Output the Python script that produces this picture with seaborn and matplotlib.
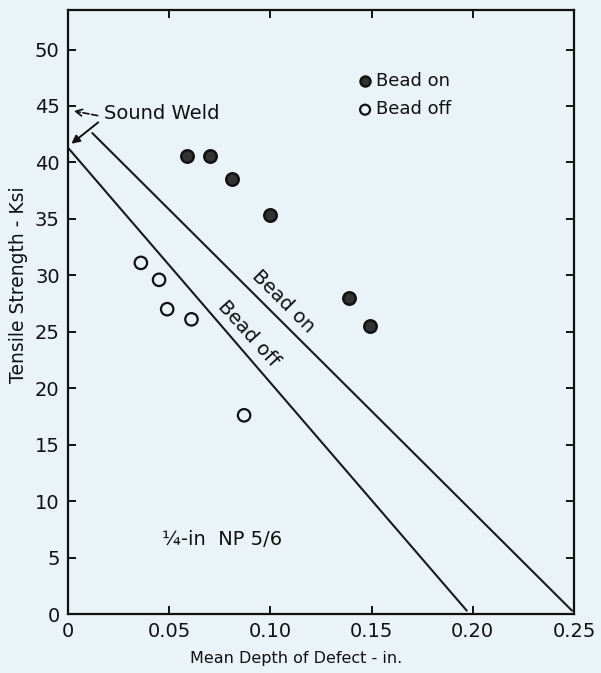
import matplotlib
matplotlib.use("Agg")
import matplotlib.pyplot as plt
import seaborn as sns
import pandas as pd

# ---- data ----
bead_on_x = [0.059, 0.070, 0.081, 0.100, 0.139, 0.149]
bead_on_y = [40.6, 40.6, 38.5, 35.3, 28.0, 25.5]

bead_off_x = [0.036, 0.045, 0.049, 0.061, 0.087]
bead_off_y = [31.1, 29.6, 27.0, 26.1, 17.6]

line_on_x = [0.012, 0.249]
line_on_y = [42.6, 0.3]
line_off_x = [0.0, 0.197]
line_off_y = [41.3, 0.3]

x_ticks = [0, 0.05, 0.10, 0.15, 0.20, 0.25]
x_tick_labels = ["0", "0.05", "0.10", "0.15", "0.20", "0.25"]
y_ticks = [0, 5, 10, 15, 20, 25, 30, 35, 40, 45, 50]
y_tick_labels = [str(v) for v in y_ticks]

sns.set_theme(style="white")
plt.rcParams["font.family"] = ["DejaVu Sans"]

bg = "#eaf3f8"
fig = plt.figure(figsize=(6.01, 6.73), dpi=100, facecolor=bg)
ax = fig.add_axes([68 / 601, 1 - 614 / 673, (574 - 68) / 601, (614 - 10) / 673])
ax.set_facecolor(bg)

on_df = pd.DataFrame({"x": bead_on_x, "y": bead_on_y})
off_df = pd.DataFrame({"x": bead_off_x, "y": bead_off_y})
lon = pd.DataFrame({"x": line_on_x, "y": line_on_y})
loff = pd.DataFrame({"x": line_off_x, "y": line_off_y})

sns.lineplot(data=lon, x="x", y="y", ax=ax, color="#1a1a1a", lw=1.5,
             sort=False, estimator=None)
sns.lineplot(data=loff, x="x", y="y", ax=ax, color="#1a1a1a", lw=1.5,
             sort=False, estimator=None)

sns.scatterplot(data=on_df, x="x", y="y", ax=ax, s=80, marker="o",
                facecolor="#333333", edgecolor="#111111", linewidth=1.8,
                label="Bead on", zorder=3)
sns.scatterplot(data=off_df, x="x", y="y", ax=ax, s=80, marker="o",
                facecolor="none", edgecolor="#111111", linewidth=1.6,
                label="Bead off", zorder=3)

ax.set_xlim(0, 0.25)
ax.set_ylim(0, 53.5)
ax.set_xticks(x_ticks)
ax.set_xticklabels(x_tick_labels)
ax.set_yticks(y_ticks)
ax.set_yticklabels(y_tick_labels)

for s in ax.spines.values():
    s.set_color("#111111")
    s.set_linewidth(1.6)
ax.tick_params(axis="both", which="major", direction="in", length=6, width=1.4,
               color="#111111", labelsize=14, labelcolor="#111111",
               top=True, right=True, bottom=True, left=True, pad=6)

ax.set_xlabel("Mean Depth of Defect - in.", fontsize=11.5, color="#111111")
ax.set_ylabel("Tensile Strength - Ksi", fontsize=13.5, color="#111111")
ax.xaxis.set_label_coords(0.45, -0.062)
ax.yaxis.set_label_coords(-0.080, 0.545)

leg = ax.legend(loc="upper left", bbox_to_anchor=(0.555, 0.91), frameon=False,
                fontsize=13, handletextpad=0.1, labelspacing=0.6,
                markerscale=0.8, borderaxespad=0, handlelength=1.0)
for t in leg.get_texts():
    t.set_color("#111111")

# rotated line labels
ax.text(0.1062, 27.7, "Bead on", rotation=-45, fontsize=14, ha="center",
        va="center", color="#111111", rotation_mode="anchor")
ax.text(0.0894, 24.8, "Bead off", rotation=-48, fontsize=14, ha="center",
        va="center", color="#111111", rotation_mode="anchor")

ax.text(0.076, 6.6, "¼-in  NP 5/6", fontsize=14, ha="center", va="center",
        color="#111111")

# Sound Weld annotation
ax.annotate("", xy=(0.0006, 41.5), xytext=(0.0160, 43.7),
            arrowprops=dict(arrowstyle="-|>", color="#111111", lw=1.4,
                            mutation_scale=12))
ax.annotate("", xy=(0.0015, 44.6), xytext=(0.0160, 44.1),
            arrowprops=dict(arrowstyle="->", color="#111111", lw=1.2,
                            linestyle="--", mutation_scale=12))
ax.text(0.0180, 44.3, "Sound Weld", fontsize=14, ha="left", va="center",
        color="#111111")

fig.savefig("out.png", dpi=100, facecolor=bg)
